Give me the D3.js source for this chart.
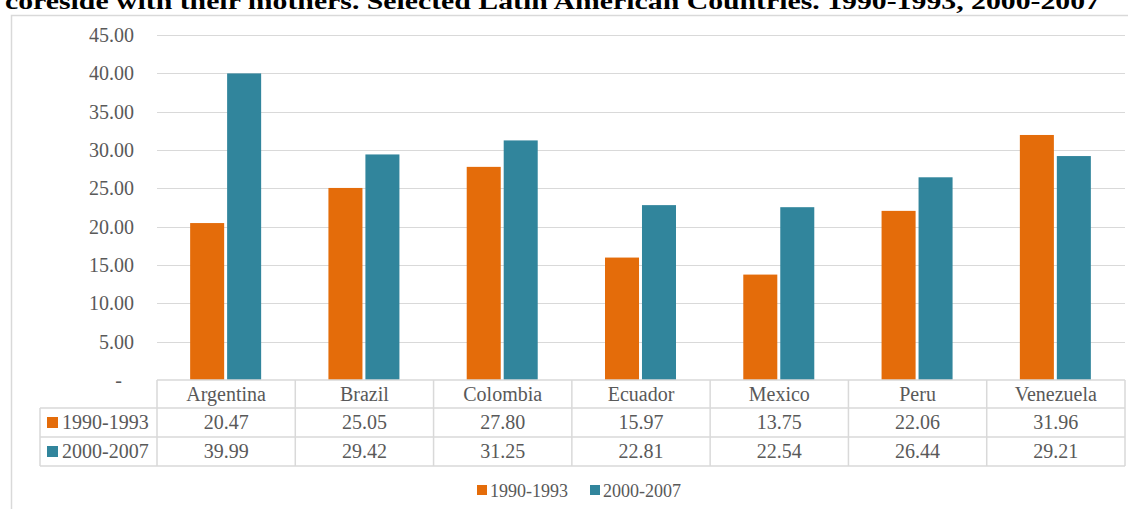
<!DOCTYPE html>
<html><head><meta charset="utf-8">
<script src="https://cdn.jsdelivr.net/npm/d3@7"></script>
<style>body{margin:0;background:#fff;overflow:hidden}</style>
</head><body>
<svg id="c" width="1128" height="509"></svg>
<script>
const countries = ["Argentina","Brazil","Colombia","Ecuador","Mexico","Peru","Venezuela"];
const seriesNames = ["1990-1993","2000-2007"];
const values1990 = [20.47,25.05,27.80,15.97,13.75,22.06,31.96];
const values2000 = [39.99,29.42,31.25,22.81,22.54,26.44,29.21];
const yTicks = [0,5,10,15,20,25,30,35,40,45];
const colors = ["#E46C0A","#31859C"];
const titleText = "coreside with their mothers. Selected Latin American Countries. 1990-1993, 2000-2007";

(function(){
const svg = d3.select("#c");
const font = "'Liberation Serif','Times New Roman',serif";
const grey = "#595959";
const lineC = "#d9d9d9";

svg.append("rect").attr("x",11.5).attr("y",15.5).attr("width",1130).attr("height",510)
  .attr("fill","none").attr("stroke",lineC).attr("stroke-width",1.5);

svg.append("text").attr("x",5).attr("y",9).attr("font-family",font).attr("font-weight","bold")
  .attr("font-size",23).attr("fill","#000").attr("textLength",1095).attr("lengthAdjust","spacingAndGlyphs").text(titleText);

const pLeft = 157, pRight = 1125, pTop = 35, pBottom = 380;
const x = d3.scaleBand().domain(countries).range([pLeft,pRight]);
const y = d3.scaleLinear().domain([0,45]).range([pBottom,pTop]);
const series = [values1990, values2000];
const xs = d3.scaleBand().domain([0,1]).range([0,71]).paddingInner(3/37.5);

svg.append("g").selectAll("line").data(yTicks.filter(d=>d>0)).join("line")
  .attr("x1",pLeft).attr("x2",pRight).attr("y1",d=>Math.round(y(d))+0.5).attr("y2",d=>Math.round(y(d))+0.5)
  .attr("stroke",lineC).attr("stroke-width",1);

const yAxis = d3.axisLeft(y).tickValues(yTicks).tickSize(0).tickPadding(0)
  .tickFormat(d=> d===0 ? "-" : d3.format(".2f")(d));
const ya = svg.append("g").attr("transform",`translate(${pLeft-23},0)`).call(yAxis);
ya.select(".domain").remove();
ya.selectAll("text").attr("font-family",font).attr("font-size",20).attr("fill",grey);
ya.selectAll(".tick").filter(d=>d===0).select("text").attr("dx",-12);

series.forEach((vals,si)=>{
  svg.append("g").selectAll("rect").data(vals).join("rect")
    .attr("x",(d,i)=>x(countries[i]) + x.bandwidth()/2 - 36 + xs(si))
    .attr("width",xs.bandwidth())
    .attr("y",d=>y(d)).attr("height",d=>pBottom-y(d))
    .attr("fill",colors[si]);
});

const rowH = 29;
const rowsY = [pBottom, pBottom+rowH-1, pBottom+2*rowH-1, pBottom+3*rowH-1];
const tb = svg.append("g").attr("stroke",lineC).attr("stroke-width",1.5).attr("fill","none");
tb.append("line").attr("x1",pLeft).attr("x2",pRight).attr("y1",rowsY[0]).attr("y2",rowsY[0]);
[1,2,3].forEach(r=>tb.append("line").attr("x1",40).attr("x2",pRight).attr("y1",rowsY[r]).attr("y2",rowsY[r]));
countries.forEach(c=>tb.append("line").attr("x1",x(c)).attr("x2",x(c)).attr("y1",rowsY[0]).attr("y2",rowsY[3]));
tb.append("line").attr("x1",pRight).attr("x2",pRight).attr("y1",rowsY[0]).attr("y2",rowsY[3]);
tb.append("line").attr("x1",40).attr("x2",40).attr("y1",rowsY[1]).attr("y2",rowsY[3]);

const tt = svg.append("g").attr("font-family",font).attr("font-size",20).attr("fill",grey).attr("text-anchor","middle");
tt.selectAll("text.h").data(countries).join("text").attr("class","h")
  .attr("x",d=>x(d)+x.bandwidth()/2).attr("y",rowsY[0]+21).text(d=>d);
series.forEach((vals,si)=>{
  tt.selectAll("text.v"+si).data(vals).join("text").attr("class","v"+si)
    .attr("x",(d,i)=>x(countries[i])+x.bandwidth()/2).attr("y",rowsY[si+1]+21).text(d=>d3.format(".2f")(d));
  svg.append("rect").attr("x",47).attr("y",rowsY[si+1]+9).attr("width",11).attr("height",11).attr("fill",colors[si]);
  svg.append("text").attr("x",62).attr("y",rowsY[si+1]+21).attr("font-family",font).attr("font-size",20)
    .attr("fill",grey).text(seriesNames[si]);
});

const lg = svg.append("g").attr("font-family",font).attr("font-size",18).attr("fill",grey);
const legX = [477,590];
seriesNames.forEach((n,i)=>{
  lg.append("rect").attr("x",legX[i]).attr("y",485).attr("width",10).attr("height",10).attr("fill",colors[i]);
  lg.append("text").attr("x",legX[i]+13).attr("y",497).text(n);
});
})();
</script>
</body></html>
